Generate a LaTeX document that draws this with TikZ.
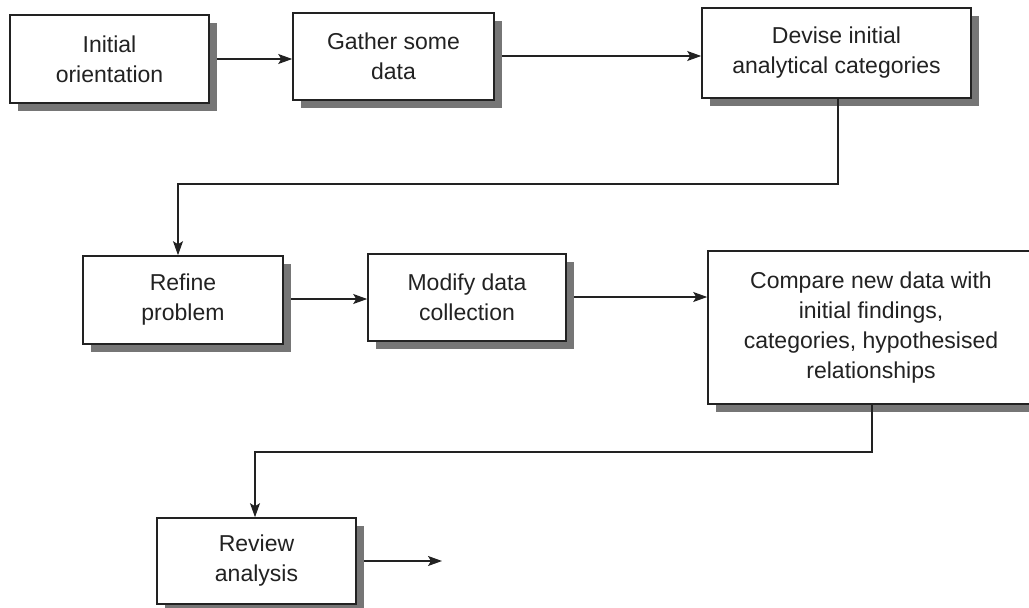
\documentclass[tikz,border=0pt]{standalone}
\usepackage{fontspec}
\setmainfont{Liberation Sans}
\usetikzlibrary{arrows.meta,shadows,calc}
\definecolor{ink}{RGB}{34,34,34}
\definecolor{shade}{RGB}{118,118,118}
\begin{document}
\begin{tikzpicture}[x=1pt,y=-1pt,
  stepbox/.style={draw=ink, line width=1.6pt, fill=white, inner sep=0pt,
    align=center, text=ink,
    font=\fontsize{23}{30}\selectfont,
    drop shadow={shadow xshift=7.5pt, shadow yshift=-7.5pt, fill=shade, opacity=1}},
  link/.style={draw=ink, line width=1.3pt,
    -{Stealth[length=14pt,width=10pt,inset=3pt]}},
  ]
\useasboundingbox (0,0) rectangle (1029,608);

% process boxes
\node[stepbox, minimum width=199pt, minimum height=88pt] (b1) at (109.5,59) {Initial\\orientation};
\node[stepbox, minimum width=201pt, minimum height=87pt] (b2) at (393.5,56.5) {Gather some\\data};
\node[stepbox, minimum width=269pt, minimum height=90pt] (b3) at (836.5,53) {Devise initial\\analytical categories};
\node[stepbox, minimum width=200pt, minimum height=88pt] (b4) at (183,300) {Refine\\problem};
\node[stepbox, minimum width=198pt, minimum height=87pt] (b5) at (467,297.5) {Modify data\\collection};
\node[stepbox, minimum width=326pt, minimum height=153pt] (b6) at (871,327.5) {Compare new data with\\initial findings,\\categories, hypothesised\\relationships};
\node[stepbox, minimum width=199pt, minimum height=86pt] (b7) at (256.5,561) {Review\\analysis};

% turning points of the return lines and the open end
\coordinate (j1) at (178,184);
\coordinate (j2) at (255,452);
\coordinate (out) at (442,561);

% connectors
\draw[link, shorten <=7.5pt] (b1.east |- 0,59) -- (b2.west |- 0,59);
\draw[link, shorten <=7.5pt] (b2.east |- 0,56) -- (b3.west |- 0,56);
\draw[link] ($(b3.south)+(1.5,0)$) |- (j1) -- (j1 |- b4.north);
\draw[link, shorten <=7.5pt] (b4.east |- 0,299) -- (b5.west |- 0,299);
\draw[link, shorten <=7.5pt] (b5.east |- 0,297) -- (b6.west |- 0,297);
\draw[link] ($(b6.south)+(1,0)$) |- (j2) -- (j2 |- b7.north);
\draw[link, shorten <=7.5pt] (b7.east) -- (out);
\end{tikzpicture}
\end{document}
